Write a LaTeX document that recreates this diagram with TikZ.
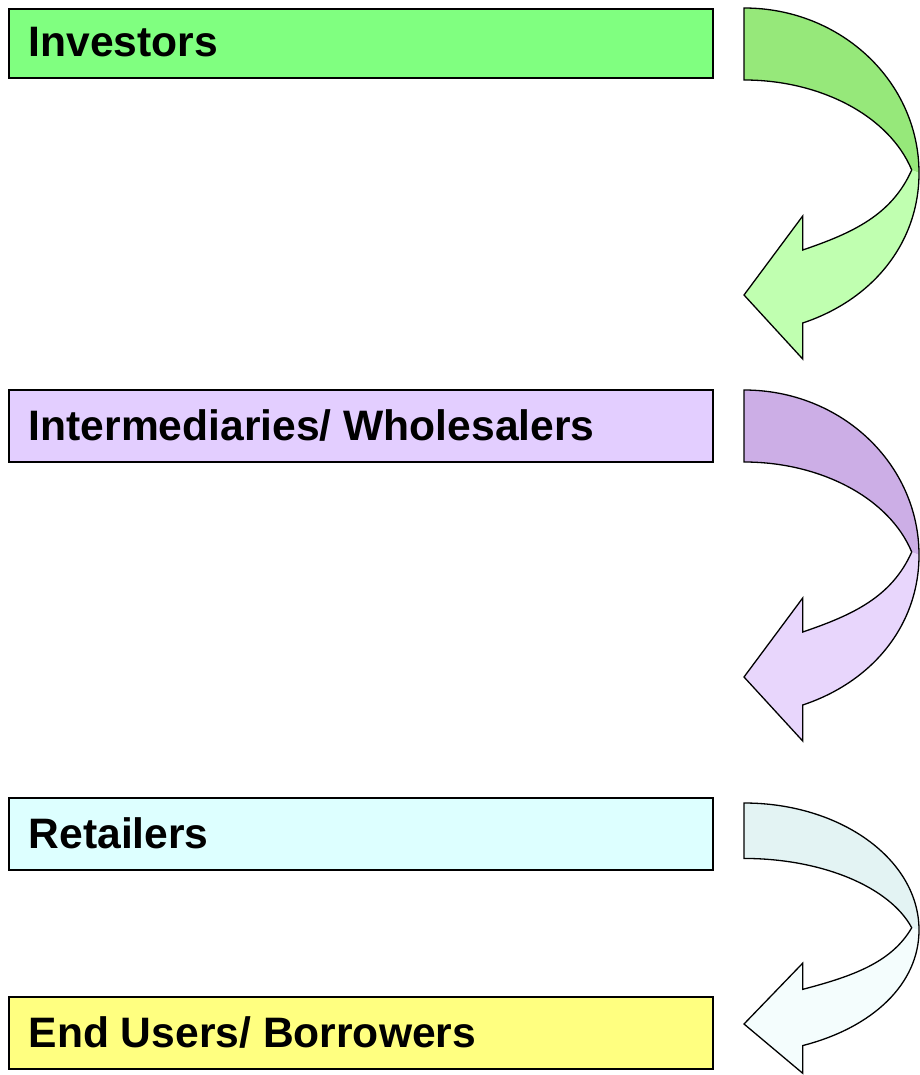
\documentclass[tikz,border=0pt]{standalone}
\usepackage{fontspec}
\setmainfont{Liberation Sans}
\definecolor{invfill}{RGB}{128,255,128}
\definecolor{intfill}{RGB}{227,206,255}
\definecolor{retfill}{RGB}{221,255,255}
\definecolor{endfill}{RGB}{255,255,128}
\definecolor{gdark}{RGB}{150,232,122}
\definecolor{glight}{RGB}{192,255,176}
\definecolor{pdark}{RGB}{204,174,230}
\definecolor{plight}{RGB}{232,214,252}
\definecolor{cdark}{RGB}{227,243,243}
\definecolor{clight}{RGB}{244,253,253}
\tikzset{
  box/.style={draw=black, line width=1.6pt, anchor=north west, minimum width=704pt, minimum height=70pt, inner sep=0pt},
  label/.style={anchor=base west, inner sep=0pt, font=\fontsize{42.6}{50}\selectfont\bfseries},
  arrowline/.style={draw=black, line width=1.3pt, line join=miter}
}
\newcommand\curvarrow[4]{%
  \begin{scope}[shift={(#1)}, yscale=#2]
    \fill[#3] (0,0) .. controls (97.2,0) and (175,73.9) .. (175,165) -- (167.7,162) .. controls (145.6,108.6) and (77.4,72) .. (0,72) -- cycle;
    \fill[#4] (167.7,162) -- (175,165) .. controls (175,234.8) and (128.9,291.7) .. (58.7,315) -- (58.7,351) -- (0,287) -- (58.7,208) -- (58.7,242) .. controls (108.7,225) and (147.7,207) .. (167.7,162) -- cycle;
    \draw[arrowline] (0,0) .. controls (97.2,0) and (175,73.9) .. (175,165) .. controls (175,234.8) and (128.9,291.7) .. (58.7,315) -- (58.7,351) -- (0,287) -- (58.7,208) -- (58.7,242) .. controls (108.7,225) and (147.7,207) .. (167.7,162) .. controls (145.6,108.6) and (77.4,72) .. (0,72) -- cycle;
  \end{scope}}
\begin{document}
\begin{tikzpicture}[x=1pt,y=-1pt]
\useasboundingbox (0,0) rectangle (919,1075);
\node[box, fill=invfill, minimum height=69pt] (inv) at (8,8) {};
\node[label] (invt) at (28.5,57) {Investors};
\node[box, fill=intfill, minimum height=72pt] (int) at (8,389) {};
\node[label] (intt) at (28.5,440) {Intermediaries/ Wholesalers};
\node[box, fill=retfill, minimum height=72pt] (ret) at (8,797) {};
\node[label] (rett) at (28.5,848) {Retailers};
\node[box, fill=endfill, minimum height=72pt] (end) at (8,996) {};
\node[label] (endt) at (28.5,1047) {End Users/ Borrowers};
\curvarrow{744,8}{1}{gdark}{glight}
\curvarrow{744,390}{1}{pdark}{plight}
\curvarrow{744,803}{0.77}{cdark}{clight}
\end{tikzpicture}
\end{document}
